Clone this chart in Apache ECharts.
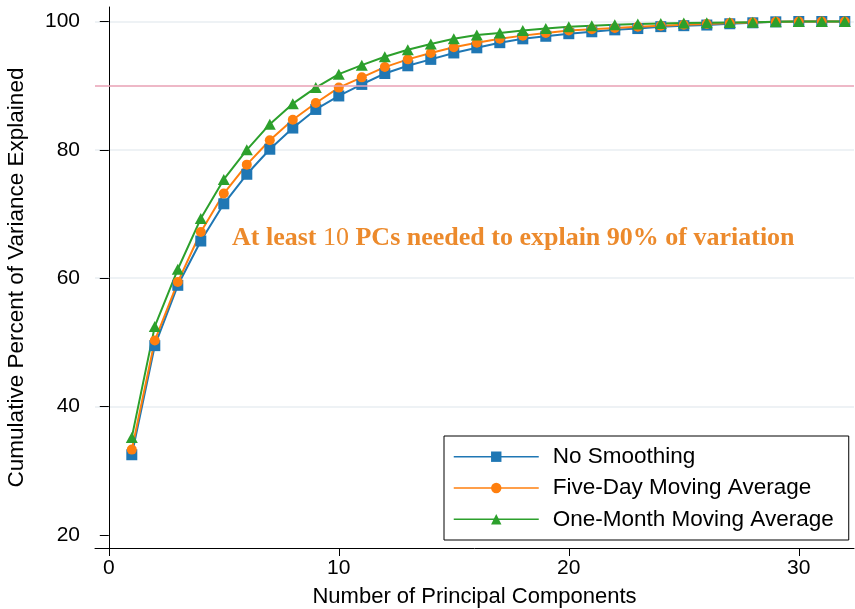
<!DOCTYPE html>
<html lang="en">
<head>
    <meta charset="UTF-8">
    <title>Cumulative variance explained by principal components</title>
    <script src="https://cdn.jsdelivr.net/npm/echarts@6/dist/echarts.min.js"></script>
    <style>
        body {
            margin: 0;
            background: #ffffff;
        }

        #chart {
            width: 855px;
            height: 609px;
        }
    </style>
</head>
<body>
    <div id="chart"></div>

    <script>
        // data
        const components = [1, 2, 3, 4, 5, 6, 7, 8, 9, 10, 11, 12, 13, 14, 15, 16,
            17, 18, 19, 20, 21, 22, 23, 24, 25, 26, 27, 28, 29, 30, 31, 32];
        const noSmoothing = [32.5, 49.5, 58.9, 65.8, 71.6, 76.2, 80.1, 83.4, 86.3, 88.4, 90.2, 91.9,
            93.1, 94.1, 95.1, 95.9, 96.7, 97.3, 97.7, 98.1, 98.4, 98.7, 98.9, 99.2,
            99.35, 99.45, 99.65, 99.8, 99.95, 100, 100, 100];
        const fiveDay = [33.3, 50.3, 59.4, 67.2, 73.2, 77.7, 81.5, 84.7, 87.3, 89.7, 91.3, 92.9,
            94.1, 95.1, 96.0, 96.7, 97.3, 97.8, 98.2, 98.6, 98.8, 99.0, 99.2, 99.35,
            99.5, 99.6, 99.75, 99.85, 99.95, 100, 100, 100];
        const oneMonth = [35.2, 52.5, 61.4, 69.3, 75.4, 80.0, 84.0, 87.2, 89.7, 91.8, 93.2, 94.5,
            95.6, 96.5, 97.3, 97.9, 98.2, 98.6, 98.9, 99.2, 99.35, 99.5, 99.6, 99.7,
            99.75, 99.8, 99.85, 99.9, 99.95, 100, 100, 100];
        const seriesNames = ['No Smoothing', 'Five-Day Moving Average', 'One-Month Moving Average'];
        const xTicks = [0, 10, 20, 30];
        const yTicks = [20, 40, 60, 80, 100];
        const threshold = 90;

        const chart = echarts.init(document.getElementById('chart'));
        const font = 'Liberation Sans, Arial, sans-serif';

        function pairs(values) {
            return components.map((c, i) => [c, values[i]]);
        }

        const option = {
            animation: false,
            grid: {
                left: 95,
                right: 1,
                top: 7,
                bottom: 61,
                outerBoundsMode: 'none'
            },
            xAxis: {
                type: 'value',
                min: -0.6,
                max: 32.4,
                name: 'Number of Principal Components',
                nameLocation: 'middle',
                nameGap: 38,
                nameTextStyle: { fontFamily: font, fontSize: 22, color: '#000' },
                axisLine: { show: true, lineStyle: { color: '#000', width: 1 } },
                axisTick: { show: true, length: 8, customValues: xTicks, lineStyle: { color: '#000' } },
                axisLabel: { customValues: xTicks, margin: 10, fontFamily: font, fontSize: 21, color: '#000' },
                splitLine: { show: false }
            },
            yAxis: {
                type: 'value',
                min: 17.97,
                max: 102.26,
                name: 'Cumulative Percent of Variance Explained',
                nameLocation: 'middle',
                nameGap: 67,
                nameTextStyle: { fontFamily: font, fontSize: 22.5, color: '#000' },
                axisLine: { show: true, lineStyle: { color: '#000', width: 1 } },
                axisTick: { show: true, length: 9, customValues: yTicks, lineStyle: { color: '#000' } },
                axisLabel: { customValues: yTicks, margin: 15, fontFamily: font, fontSize: 21, color: '#000' },
                splitLine: {
                    show: true,
                    lineStyle: {
                        // no grid line on the bottom tick
                        color: ['rgba(0,0,0,0)', '#e8eef2', '#e8eef2', '#e8eef2', '#e8eef2'],
                        width: 1.5
                    }
                }
            },
            legend: {
                orient: 'vertical',
                left: 444,
                top: 436,
                padding: [8.7, 15, 8.7, 9],
                itemWidth: 85,
                itemHeight: 13,
                itemGap: 7.3,
                borderColor: '#000',
                borderWidth: 1,
                backgroundColor: '#fff',
                lineStyle: { width: 1.5 },
                textStyle: {
                    fontFamily: font,
                    fontSize: 22.5,
                    lineHeight: 24,
                    color: '#000',
                    padding: [0, 0, 0, 9]
                },
                data: seriesNames
            },
            graphic: [{
                type: 'text',
                left: 232,
                top: 225,
                z: 10,
                style: {
                    text: '{b|At least }{n|10}{b| PCs needed to explain 90% of variation}',
                    rich: {
                        b: { fontFamily: 'Liberation Serif, serif', fontWeight: 'bold', fontSize: 26, fill: '#ec8a2c' },
                        n: { fontFamily: 'Liberation Serif, serif', fontWeight: 'normal', fontSize: 26, fill: '#ec8a2c' }
                    }
                }
            }],
            series: [
                {
                    name: seriesNames[0],
                    type: 'line',
                    data: pairs(noSmoothing),
                    symbol: 'rect',
                    symbolSize: 11,
                    color: '#1f77b4',
                    lineStyle: { width: 2 },
                    markLine: {
                        silent: true,
                        symbol: 'none',
                        label: { show: false },
                        lineStyle: { color: '#e8a0b4', type: 'solid', width: 1.5 },
                        data: [{ yAxis: threshold }]
                    }
                },
                {
                    name: seriesNames[1],
                    type: 'line',
                    data: pairs(fiveDay),
                    symbol: 'circle',
                    symbolSize: 10,
                    color: '#ff7f0e',
                    lineStyle: { width: 2 }
                },
                {
                    name: seriesNames[2],
                    type: 'line',
                    data: pairs(oneMonth),
                    symbol: 'triangle',
                    symbolSize: [12, 11],
                    color: '#2ca02c',
                    lineStyle: { width: 2 }
                }
            ]
        };

        chart.setOption(option);
    </script>
</body>
</html>
